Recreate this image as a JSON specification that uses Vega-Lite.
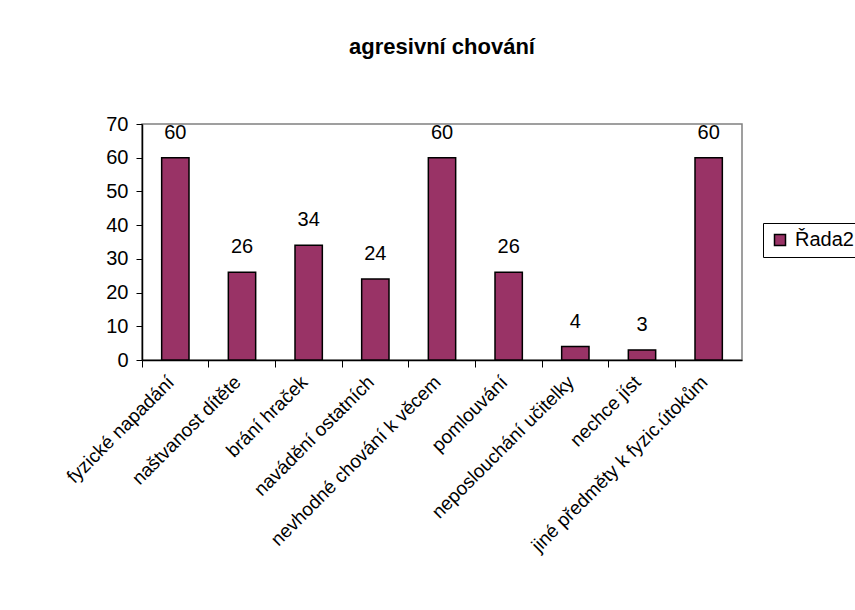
{
  "$schema": "https://vega.github.io/schema/vega-lite/v6.json",
  "width": 600,
  "height": 236,
  "autosize": "none",
  "padding": {"left": 142, "top": 124, "right": 113, "bottom": 250},
  "background": "white",
  "title": {
    "text": "agresivní chování",
    "font": "Liberation Sans",
    "fontSize": 22,
    "fontWeight": "bold",
    "color": "black",
    "anchor": "middle",
    "baseline": "alphabetic",
    "offset": 38
  },
  "data": {
    "values": [
      {"kategorie": "fyzické napadání", "hodnota": 60, "rada": "Řada2"},
      {"kategorie": "naštvanost dítěte", "hodnota": 26, "rada": "Řada2"},
      {"kategorie": "brání hraček", "hodnota": 34, "rada": "Řada2"},
      {"kategorie": "navádění ostatních", "hodnota": 24, "rada": "Řada2"},
      {"kategorie": "nevhodné chování k věcem", "hodnota": 60, "rada": "Řada2"},
      {"kategorie": "pomlouvání", "hodnota": 26, "rada": "Řada2"},
      {"kategorie": "neposlouchání učitelky", "hodnota": 4, "rada": "Řada2"},
      {"kategorie": "nechce jíst", "hodnota": 3, "rada": "Řada2"},
      {"kategorie": "jiné předměty k fyzic.útokům", "hodnota": 60, "rada": "Řada2"}
    ]
  },
  "encoding": {
    "x": {
      "field": "kategorie",
      "type": "nominal",
      "sort": null,
      "scale": {"paddingInner": 0, "paddingOuter": 0}
    },
    "y": {
      "field": "hodnota",
      "type": "quantitative",
      "scale": {"domain": [0, 70], "nice": false},
      "axis": {
        "title": null,
        "values": [0, 10, 20, 30, 40, 50, 60, 70],
        "labelOverlap": false,
        "grid": false,
        "labelFont": "Liberation Sans",
        "labelFontSize": 20,
        "labelColor": "black",
        "tickColor": "black",
        "tickSize": 6,
        "labelPadding": 8,
        "domainColor": "black",
        "domainWidth": 1.5
      }
    }
  },
  "layer": [
    {
      "mark": {"type": "bar", "width": {"band": 0.41}, "stroke": "black", "strokeWidth": 1.5},
      "encoding": {
        "x": {
          "field": "kategorie",
          "type": "nominal",
          "sort": null,
          "axis": {
            "title": null,
            "orient": "bottom",
            "labelAngle": -45,
            "labelAlign": "right",
            "labelBaseline": "alphabetic",
            "labelFont": "Liberation Sans",
            "labelFontSize": 19,
            "labelColor": "black",
            "labelPadding": 23,
            "labelDx": -3,
            "ticks": false,
            "domain": true,
            "domainColor": "black",
            "domainWidth": 1.5,
            "labelLimit": 400,
            "labelOverlap": false
          }
        },
        "color": {
          "field": "rada",
          "type": "nominal",
          "scale": {"range": ["#993366"]},
          "legend": {
            "title": null,
            "orient": "none",
            "legendX": 621,
            "legendY": 99,
            "symbolType": "square",
            "symbolSize": 121,
            "symbolStrokeColor": "black",
            "symbolStrokeWidth": 1.5,
            "symbolOpacity": 1,
            "labelFont": "Liberation Sans",
            "labelFontSize": 20,
            "labelColor": "black",
            "labelOffset": 5,
            "padding": 7,
            "strokeColor": "black",
            "fillColor": "white"
          }
        }
      }
    },
    {
      "mark": {"type": "text", "baseline": "alphabetic", "dy": -19, "font": "Liberation Sans", "fontSize": 20, "color": "black"},
      "encoding": {
        "x": {
          "field": "kategorie",
          "type": "nominal",
          "sort": null,
          "axis": {
            "title": null,
            "orient": "bottom",
            "bandPosition": 0,
            "labels": false,
            "domain": false,
            "ticks": true,
            "tickColor": "black",
            "tickSize": 7,
            "tickWidth": 1
          }
        },
        "text": {"field": "hodnota", "type": "quantitative"}
      }
    }
  ],
  "resolve": {"axis": {"x": "independent"}},
  "config": {
    "view": {"stroke": "#808080", "strokeWidth": 1.5}
  }
}
